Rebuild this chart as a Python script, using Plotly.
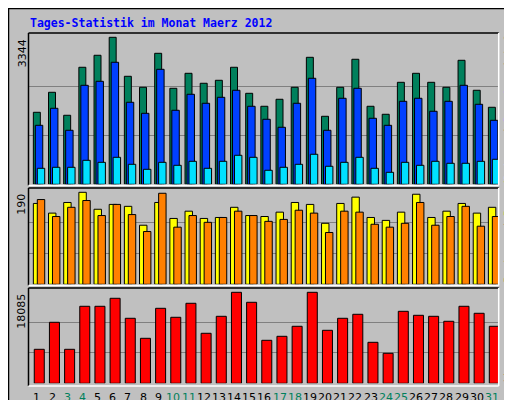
import plotly.graph_objects as go

days = list(range(1, 32))
weekend = [3, 4, 10, 11, 17, 18, 24, 25, 31]

hits = [1638, 2093, 1570, 2662, 2935, 3344, 2457, 2207, 2980, 2184, 2525, 2298, 2366, 2662, 2070, 1775,
        1934, 2207, 2889, 1547, 2207, 2844, 1775, 1593, 2320, 2525, 2320, 2207, 2821, 2139, 1752]
files = [1342, 1729, 1229, 2252, 2343, 2776, 1866, 1615, 2616, 1684, 2048, 1843, 1979, 2139, 1775, 1479,
         1297, 1843, 2412, 1229, 1957, 2184, 1502, 1342, 1888, 1957, 1661, 1888, 2252, 1820, 1456]
pages = [364, 387, 387, 546, 500, 614, 455, 341, 500, 432, 523, 364, 523, 660, 614, 319,
         387, 455, 683, 410, 500, 614, 364, 273, 500, 432, 523, 478, 478, 523, 569]
visits = [167, 147, 169, 190, 155, 165, 161, 122, 169, 136, 151, 136, 138, 159, 142, 140,
          149, 169, 165, 126, 167, 180, 138, 132, 149, 186, 138, 151, 167, 147, 159]
sites = [175, 140, 159, 173, 142, 165, 144, 109, 188, 118, 142, 128, 138, 151, 142, 130,
         134, 153, 147, 107, 151, 149, 124, 118, 126, 169, 122, 140, 161, 120, 140]
kbytes = [6758, 12124, 6758, 15304, 15304, 16894, 12919, 8944, 14906, 13118, 15900, 9938, 13316, 18085, 16099, 8546,
          9341, 11329, 18085, 10534, 12919, 13714, 8149, 5963, 14310, 13515, 13316, 12323, 15304, 13913, 11329]

W, H = 512, 400
GRAY = "#C0C0C0"
X0, X1 = 20.5, 490.7


def dom(top_px, bot_px):
    return [1 - bot_px / H, 1 - top_px / H]


# panels: (top of panel px, bar base px, max px, max value)
panels = {
    "y": (25, 176.3, 29.3, max(hits)),
    "y2": (180, 276.3, 184.3, max(visits)),
    "y3": (280, 375.3, 284.3, max(kbytes)),
}

fig = go.Figure()


def bar(vals, color, offset, width, yaxis):
    fig.add_trace(go.Bar(
        x=days, y=vals, offset=offset, width=width, yaxis=yaxis,
        marker=dict(color=color, line=dict(color="black", width=1)),
        showlegend=False, hoverinfo="skip",
    ))


bar(hits, "#00805C", -0.18, 0.46, "y")
bar(files, "#0040FF", -0.05, 0.49, "y")
bar(pages, "#00E0FF", 0.08, 0.49, "y")
bar(visits, "#FFFF00", -0.18, 0.49, "y2")
bar(sites, "#FF8000", 0.08, 0.49, "y2")
bar(kbytes, "#FF0000", -0.12, 0.66, "y3")

layout_axes = {}
shapes = []
annotations = []
for name, (top, base, maxpx, vmax) in panels.items():
    scale = vmax / (base - maxpx)
    key = "yaxis" if name == "y" else "yaxis" + name[1:]
    layout_axes[key] = dict(
        domain=dom(top, base), range=[0, (base - top) * scale], anchor="x",
        tickvals=[vmax / 3, 2 * vmax / 3], showticklabels=False,
        showgrid=True, gridcolor="#808080", gridwidth=1, zeroline=False,
        fixedrange=True,
    )
    annotations.append(dict(
        text=str(vmax), xref="paper", yref="paper", x=14 / W, y=1 - maxpx / H,
        xanchor="center", yanchor="top", textangle=-90, showarrow=False,
        font=dict(family="DejaVu Sans", size=11, color="black"),
    ))

# panel bevel frames
frames = [(25, 177.5), (180, 277.5), (280, 378)]
for t, b in frames:
    shapes.append(dict(type="line", xref="paper", yref="paper", x0=X0 / W, x1=X1 / W,
                       y0=1 - t / H, y1=1 - t / H, line=dict(color="black", width=1.5)))
    shapes.append(dict(type="line", xref="paper", yref="paper", x0=X0 / W, x1=X0 / W,
                       y0=1 - t / H, y1=1 - b / H, line=dict(color="black", width=1.5)))
    shapes.append(dict(type="line", xref="paper", yref="paper", x0=X0 / W, x1=X1 / W,
                       y0=1 - b / H, y1=1 - b / H, line=dict(color="white", width=1.5)))
    shapes.append(dict(type="line", xref="paper", yref="paper", x0=X1 / W, x1=X1 / W,
                       y0=1 - t / H, y1=1 - b / H, line=dict(color="white", width=1.5)))

# outer frame
shapes.append(dict(type="rect", xref="paper", yref="paper", x0=507.5 / W, x1=1, y0=0, y1=1,
                   fillcolor="#808080", line=dict(width=0)))
shapes.append(dict(type="rect", xref="paper", yref="paper", x0=0, x1=1, y0=0, y1=4.5 / H,
                   fillcolor="#808080", line=dict(width=0)))
shapes.append(dict(type="rect", xref="paper", yref="paper", x0=0.5 / W, x1=1 - 0.5 / W,
                   y0=0.5 / H, y1=1 - 0.5 / H, line=dict(color="black", width=1.5)))

annotations.append(dict(
    text="<b>Tages-Statistik im Monat Maerz 2012</b>", xref="paper", yref="paper",
    x=20 / W, y=1 - 15 / H, xanchor="left", yanchor="middle", showarrow=False,
    font=dict(family="DejaVu Sans Mono", size=11.5, color="#0000FF"),
))

side = [
    ("<span style='color:#00E0FF'>Seiten</span> / <span style='color:#0040FF'>Dateien</span>"
     " / <span style='color:#00805C'>Anfragen</span>", 176),
    ("<span style='color:#FF8000'>Rechner</span> / <span style='color:#FFFF00'>Besuche</span>", 277),
    ("<span style='color:#FF0000'>kb</span>", 377),
]
for txt, ybot in side:
    annotations.append(dict(
        text=txt, xref="paper", yref="paper", x=500 / W, y=1 - ybot / H,
        xanchor="center", yanchor="bottom", textangle=-90, showarrow=False,
        font=dict(family="DejaVu Sans Mono", size=11, color="black"),
    ))

# day labels under the bottom panel
for d in days:
    annotations.append(dict(
        text=str(d), xref="x", yref="paper", x=d + 0.05, y=1 - 389 / H,
        xanchor="center", yanchor="middle", showarrow=False,
        font=dict(family="DejaVu Sans", size=11,
                  color="#00805C" if d in weekend else "black"),
    ))

fig.update_layout(
    width=W, height=H, margin=dict(l=0, r=0, t=0, b=0, autoexpand=False),
    paper_bgcolor=GRAY, plot_bgcolor=GRAY, barmode="overlay",
    xaxis=dict(domain=[X0 / W, X1 / W], range=[0.5, 31.5], showticklabels=False,
               showgrid=False, zeroline=False, ticks="", anchor="y3", fixedrange=True),
    shapes=shapes, annotations=annotations,
    **layout_axes,
)

fig.write_html("out.html", config={"displayModeBar": False})
